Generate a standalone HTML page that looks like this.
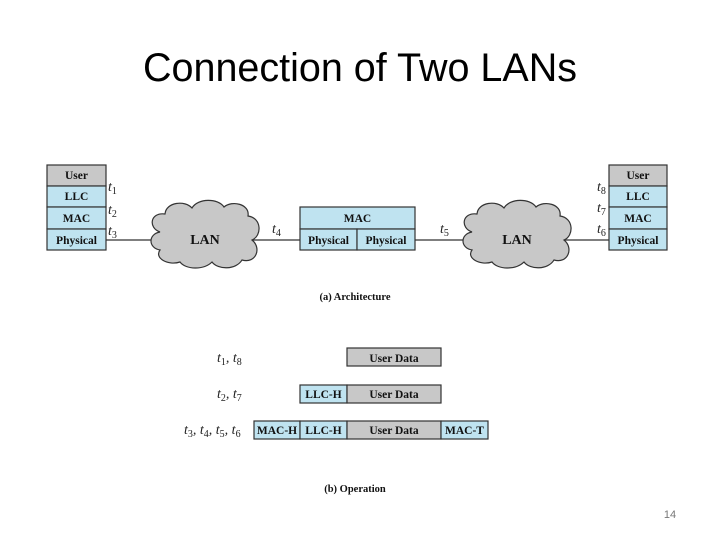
<!DOCTYPE html>
<html><head><meta charset="utf-8"><style>
html,body{margin:0;padding:0;background:#fff;width:720px;height:540px;overflow:hidden}
svg{display:block}
.t{font-family:"Liberation Serif",serif;font-weight:bold;font-size:11.5px;fill:#111;text-anchor:middle}
.i{font-family:"Liberation Serif",serif;font-style:italic;font-size:14px;fill:#222}
.s{font-size:10px;font-style:normal}
</style></head><body>
<svg width="720" height="540" viewBox="0 0 720 540">
<text x="360" y="81" text-anchor="middle" font-family="Liberation Sans, sans-serif" font-size="39.5" fill="#000" textLength="434" lengthAdjust="spacingAndGlyphs">Connection of Two LANs</text>
<g stroke="#333" stroke-width="1.2">
<line x1="106" y1="240" x2="300" y2="240"/>
<line x1="415" y1="240" x2="609" y2="240"/>
<rect x="47" y="165" width="59" height="21" fill="#c8c8c8"/>
<rect x="47" y="186" width="59" height="21" fill="#bfe3f0"/>
<rect x="47" y="207" width="59" height="22" fill="#bfe3f0"/>
<rect x="47" y="229" width="59" height="21" fill="#bfe3f0"/>
<rect x="609" y="165" width="58" height="21" fill="#c8c8c8"/>
<rect x="609" y="186" width="58" height="21" fill="#bfe3f0"/>
<rect x="609" y="207" width="58" height="22" fill="#bfe3f0"/>
<rect x="609" y="229" width="58" height="21" fill="#bfe3f0"/>
<rect x="300" y="207" width="115" height="22" fill="#bfe3f0"/>
<rect x="300" y="229" width="57" height="21" fill="#bfe3f0"/>
<rect x="357" y="229" width="58" height="21" fill="#bfe3f0"/>
<path d="M160,232 C148,228 150,212 165,214 C166,202 185,200 192,208 C198,198 218,198 224,207 C232,200 250,204 248,216 C262,218 262,236 252,240 C262,248 256,264 242,260 C236,270 218,270 212,262 C204,270 186,270 180,262 C168,266 154,258 160,250 C148,248 148,234 160,232 Z" fill="#c8c8c8"/>
<path d="M160,232 C148,228 150,212 165,214 C166,202 185,200 192,208 C198,198 218,198 224,207 C232,200 250,204 248,216 C262,218 262,236 252,240 C262,248 256,264 242,260 C236,270 218,270 212,262 C204,270 186,270 180,262 C168,266 154,258 160,250 C148,248 148,234 160,232 Z" fill="#c8c8c8" transform="translate(312,0)"/>
<rect x="347" y="348" width="94" height="18" fill="#c8c8c8"/>
<rect x="300" y="385" width="47" height="18" fill="#bfe3f0"/>
<rect x="347" y="385" width="94" height="18" fill="#c8c8c8"/>
<rect x="254" y="421" width="46" height="18" fill="#bfe3f0"/>
<rect x="300" y="421" width="47" height="18" fill="#bfe3f0"/>
<rect x="347" y="421" width="94" height="18" fill="#c8c8c8"/>
<rect x="441" y="421" width="47" height="18" fill="#bfe3f0"/>
</g>
<g class="t">
<text x="76.5" y="179">User</text><text x="76.5" y="200">LLC</text><text x="76.5" y="222">MAC</text><text x="76.5" y="244">Physical</text>
<text x="638" y="179">User</text><text x="638" y="200">LLC</text><text x="638" y="222">MAC</text><text x="638" y="244">Physical</text>
<text x="357.5" y="222">MAC</text><text x="328.5" y="244">Physical</text><text x="386" y="244">Physical</text>
<text x="205" y="244" font-size="14">LAN</text><text x="517" y="244" font-size="14">LAN</text>
<text x="355" y="300" font-size="10.5">(a) Architecture</text>
<text x="394" y="362">User Data</text>
<text x="323.5" y="398">LLC-H</text><text x="394" y="398">User Data</text>
<text x="277" y="434">MAC-H</text><text x="323.5" y="434">LLC-H</text><text x="394" y="434">User Data</text><text x="464.5" y="434">MAC-T</text>
<text x="355" y="492" font-size="10.5">(b) Operation</text>
</g>
<g class="i">
<text x="108" y="191">t<tspan class="s" dy="3">1</tspan></text>
<text x="108" y="214">t<tspan class="s" dy="3">2</tspan></text>
<text x="108" y="235">t<tspan class="s" dy="3">3</tspan></text>
<text x="272" y="233">t<tspan class="s" dy="3">4</tspan></text>
<text x="440" y="233">t<tspan class="s" dy="3">5</tspan></text>
<text x="597" y="191">t<tspan class="s" dy="3">8</tspan></text>
<text x="597" y="212">t<tspan class="s" dy="3">7</tspan></text>
<text x="597" y="233">t<tspan class="s" dy="3">6</tspan></text>
<text x="217" y="362">t<tspan class="s" dy="3">1</tspan><tspan dy="-3">, t</tspan><tspan class="s" dy="3">8</tspan></text>
<text x="217" y="398">t<tspan class="s" dy="3">2</tspan><tspan dy="-3">, t</tspan><tspan class="s" dy="3">7</tspan></text>
<text x="184" y="434">t<tspan class="s" dy="3">3</tspan><tspan dy="-3">, t</tspan><tspan class="s" dy="3">4</tspan><tspan dy="-3">, t</tspan><tspan class="s" dy="3">5</tspan><tspan dy="-3">, t</tspan><tspan class="s" dy="3">6</tspan></text>
</g>
<text x="670" y="518" text-anchor="middle" font-family="Liberation Sans, sans-serif" font-size="11" fill="#777">14</text>
</svg>
</body></html>
